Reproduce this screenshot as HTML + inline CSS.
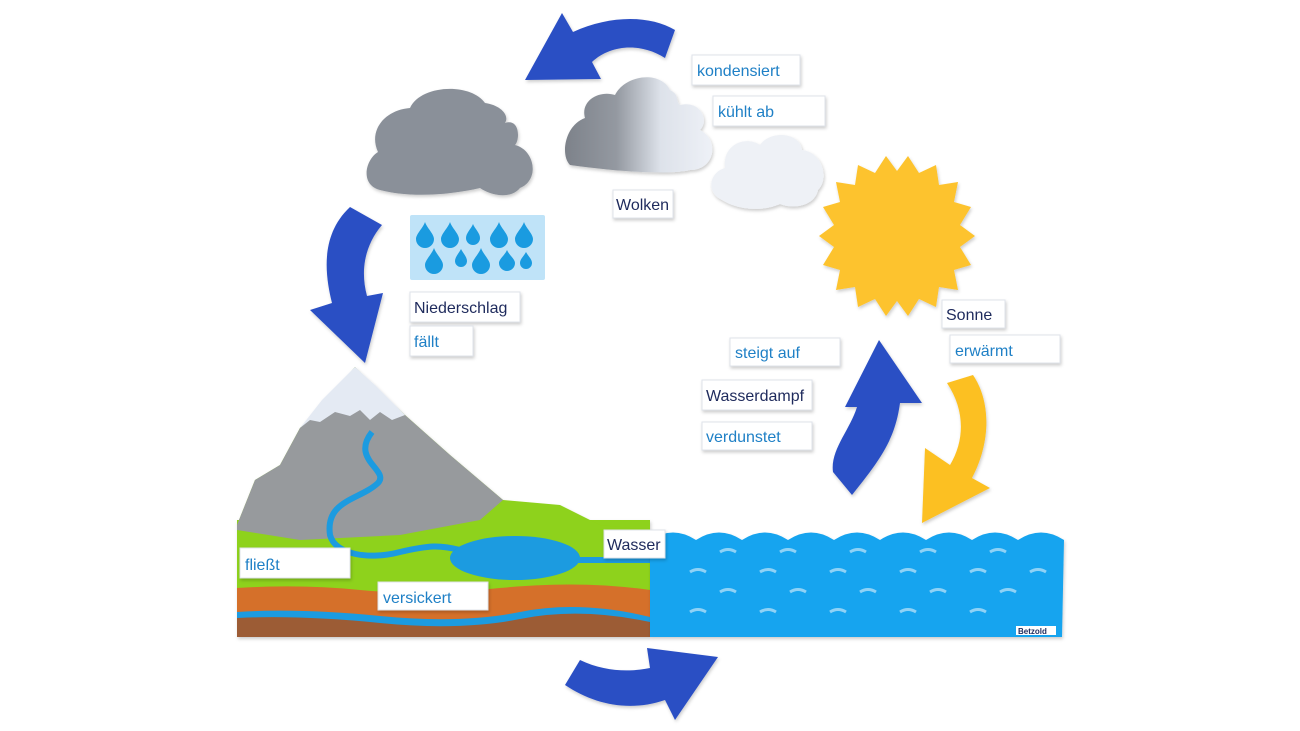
<!DOCTYPE html>
<html><head><meta charset="utf-8"><style>
html,body{margin:0;padding:0;background:#fff;}
svg{display:block}
text{font-family:"Liberation Sans",sans-serif;font-size:16px}
.b{fill:#1f80c6}.d{fill:#1e2a5c}
.lab{fill:#fff;stroke:#dfe3ea;stroke-width:1}
</style></head><body>
<svg width="1300" height="731" viewBox="0 0 1300 731" xmlns="http://www.w3.org/2000/svg">
<defs>
<linearGradient id="cg" x1="0" x2="1" y1="0" y2="0">
<stop offset="0" stop-color="#7d828a"/><stop offset="0.35" stop-color="#9499a1"/><stop offset="0.65" stop-color="#dde2ea"/><stop offset="1" stop-color="#eef1f7"/></linearGradient>
<filter id="sh" x="-10%" y="-10%" width="130%" height="140%"><feDropShadow dx="1" dy="2" stdDeviation="1.5" flood-color="#000" flood-opacity="0.2"/></filter>
</defs>

<!-- top arrow -->
<path d="M573 32 C610 15 650 15 675 30 L665 58 C640 42 610 45 592 62 L601 79 L525 80 L562 13 Z" fill="#2b4fc4" filter="url(#sh)"/>
<!-- left arrow -->
<path d="M350 207 C320 235 325 275 332 303 L310 310 L365 363 L383 293 L367 296 C360 270 365 245 382 225 Z" fill="#2b4fc4" filter="url(#sh)"/>
<!-- blue up arrow -->
<path d="M852 495 C880 460 895 440 900 403 L922 403 L879 340 L845 407 L857 407 C850 430 830 450 833 472 Z" fill="#2b4fc4" filter="url(#sh)"/>
<!-- yellow arrow -->
<path d="M947 383 C965 410 965 440 950 465 L925 448 L922 523 L990 488 L972 478 C992 440 990 400 973 375 Z" fill="#fcc021" filter="url(#sh)"/>
<!-- bottom arrow -->
<path d="M580 660 C605 672 630 672 650 668 L647 648 L718 657 L675 720 L665 700 C630 712 595 705 565 685 Z" fill="#2b4fc4" filter="url(#sh)"/>

<!-- clouds -->
<path d="M380 190 C360 185 365 160 378 152 C368 130 385 110 410 108 C420 85 470 82 485 103 C500 105 510 115 505 123 C520 118 520 140 515 145 C535 150 540 180 520 188 C510 200 490 195 480 188 C450 195 410 198 380 190 Z" fill="#8a9099" filter="url(#sh)"/>
<path d="M570 165 C560 155 565 125 585 118 C580 100 600 90 615 95 C625 75 660 70 670 90 C680 95 675 100 680 105 C700 100 710 120 700 130 C720 140 715 170 690 170 C670 175 620 172 570 165 Z" fill="url(#cg)" filter="url(#sh)"/>
<path d="M722 200 C705 192 710 172 725 168 C722 145 745 135 760 145 C770 130 800 132 802 150 C822 152 830 178 818 190 C815 205 795 210 780 204 C762 212 738 210 722 200 Z" fill="#eef1f6" filter="url(#sh)"/>

<!-- rain card -->
<rect x="410" y="215" width="135" height="65" rx="2" fill="#bfe3f8"/>
<g fill="#1a9be0">
<path d="M425 222 C423 228 416 234 416 239 a9 9 0 0 0 18 0 C434 234 427 228 425 222Z"/>
<path d="M450 222 C448 228 441 234 441 239 a9 9 0 0 0 18 0 C459 234 452 228 450 222Z"/>
<path d="M473 224 C471 229 466 233 466 238 a7 7 0 0 0 14 0 C480 233 475 229 473 224Z"/>
<path d="M499 222 C497 228 490 234 490 239 a9 9 0 0 0 18 0 C508 234 501 228 499 222Z"/>
<path d="M524 222 C522 228 515 234 515 239 a9 9 0 0 0 18 0 C533 234 526 228 524 222Z"/>
<path d="M434 248 C432 254 425 260 425 265 a9 9 0 0 0 18 0 C443 260 436 254 434 248Z"/>
<path d="M461 249 C459 253 455 257 455 261 a6 6 0 0 0 12 0 C467 257 463 253 461 249Z"/>
<path d="M481 248 C479 254 472 260 472 265 a9 9 0 0 0 18 0 C490 260 483 254 481 248Z"/>
<path d="M507 250 C505 255 499 259 499 263 a8 8 0 0 0 16 0 C515 259 509 255 507 250Z"/>
<path d="M526 252 C524 256 520 259 520 263 a6 6 0 0 0 12 0 C532 259 528 256 526 252Z"/>
</g>

<!-- sun -->
<g filter="url(#sh)">
<polygon fill="#fdc32e" points="975,236 960,247 971,265 954,270 958,290 939,287 936,307 919,299 908,316 897,301 886,316 875,299 858,307 855,287 836,290 840,270 823,265 834,247 819,236 834,225 823,207 840,202 836,182 855,185 858,165 875,173 886,156 897,171 908,156 919,173 936,165 939,185 958,182 954,202 971,207 960,225"/>
</g>

<!-- landscape -->
<g filter="url(#sh)">
<rect x="237" y="520" width="413" height="117" fill="#8ed21a"/>
<path d="M237 525 L255 480 L280 465 L300 428 L355 367 L405 415 L450 455 L503 500 L560 505 L600 525 L650 530 L650 637 L237 637 Z" fill="#8ed21a"/>
<path d="M237 525 L255 480 L280 465 L300 428 L355 367 L405 415 L450 455 L503 500 L480 520 L400 535 L300 540 L237 530 Z" fill="#979a9d"/>
<path d="M300 428 L322 400 L355 367 L375 385 L385 395 L405 415 L392 420 L380 412 L370 420 L360 410 L350 416 L335 412 L320 422 L310 420 Z" fill="#e4eaf3"/>
<path d="M237 588 Q300 584 360 590 T500 588 T650 590 L650 637 L237 637 Z" fill="#d5702a"/>
<path d="M237 612 Q300 608 380 616 T520 612 T650 617 L650 637 L237 637 Z" fill="#1a9be0"/>
<path d="M237 618 Q300 615 380 623 T520 619 T650 622 L650 637 L237 637 Z" fill="#9c5c34"/>
<path d="M372 432 C350 460 390 470 378 483 C360 500 325 500 330 535 C335 555 370 560 400 552 C430 545 440 545 460 550" fill="none" stroke="#1a9be0" stroke-width="6"/>
<ellipse cx="515" cy="558" rx="65" ry="22" fill="#1a9be0"/>
<rect x="575" y="557" width="75" height="6" fill="#1a9be0"/>
</g>

<!-- sea -->
<path d="M650 540 q23 -15 46 0 q23 -15 46 0 q23 -15 46 0 q23 -15 46 0 q23 -15 46 0 q23 -15 46 0 q23 -15 46 0 q23 -15 46 0 q23 -15 46 0 L1062 637 L650 637 Z" fill="#18a4ef" filter="url(#sh)"/>
<g fill="none" stroke="#8fd2f6" stroke-width="3">
<path d="M720 552 q8 -5 16 0 M780 552 q8 -5 16 0 M850 552 q8 -5 16 0 M920 552 q8 -5 16 0 M990 552 q8 -5 16 0"/>
<path d="M690 572 q8 -5 16 0 M760 572 q8 -5 16 0 M830 572 q8 -5 16 0 M900 572 q8 -5 16 0 M970 572 q8 -5 16 0 M1030 572 q8 -5 16 0"/>
<path d="M720 592 q8 -5 16 0 M790 592 q8 -5 16 0 M860 592 q8 -5 16 0 M930 592 q8 -5 16 0 M1000 592 q8 -5 16 0"/>
<path d="M690 612 q8 -5 16 0 M760 612 q8 -5 16 0 M830 612 q8 -5 16 0 M900 612 q8 -5 16 0 M970 612 q8 -5 16 0"/>
</g>
<rect x="1016" y="626" width="40" height="9" fill="#fff"/>
<text x="1018" y="634" style="font-size:8px;font-weight:bold" fill="#1e2a5c">Betzold</text>

<!-- labels -->
<g filter="url(#sh)">
<rect class="lab" x="692" y="55" width="108" height="30"/>
<rect class="lab" x="713" y="96" width="112" height="30"/>
<rect class="lab" x="613" y="190" width="60" height="28"/>
<rect class="lab" x="410" y="292" width="110" height="30"/>
<rect class="lab" x="410" y="326" width="63" height="30"/>
<rect class="lab" x="942" y="300" width="63" height="28"/>
<rect class="lab" x="950" y="335" width="110" height="28"/>
<rect class="lab" x="730" y="338" width="110" height="28"/>
<rect class="lab" x="702" y="380" width="110" height="30"/>
<rect class="lab" x="702" y="422" width="110" height="28"/>
<rect class="lab" x="604" y="530" width="61" height="28"/>
<rect class="lab" x="240" y="548" width="110" height="30"/>
<rect class="lab" x="378" y="582" width="110" height="28"/>
</g>
<text class="b" x="697" y="76">kondensiert</text>
<text class="b" x="718" y="117">kühlt ab</text>
<text class="d" x="616" y="210">Wolken</text>
<text class="d" x="414" y="313">Niederschlag</text>
<text class="b" x="414" y="347">fällt</text>
<text class="d" x="946" y="320">Sonne</text>
<text class="b" x="955" y="356">erwärmt</text>
<text class="b" x="735" y="358">steigt auf</text>
<text class="d" x="706" y="401">Wasserdampf</text>
<text class="b" x="706" y="442">verdunstet</text>
<text class="d" x="607" y="550">Wasser</text>
<text class="b" x="245" y="570">fließt</text>
<text class="b" x="383" y="603">versickert</text>
</svg>
</body></html>
